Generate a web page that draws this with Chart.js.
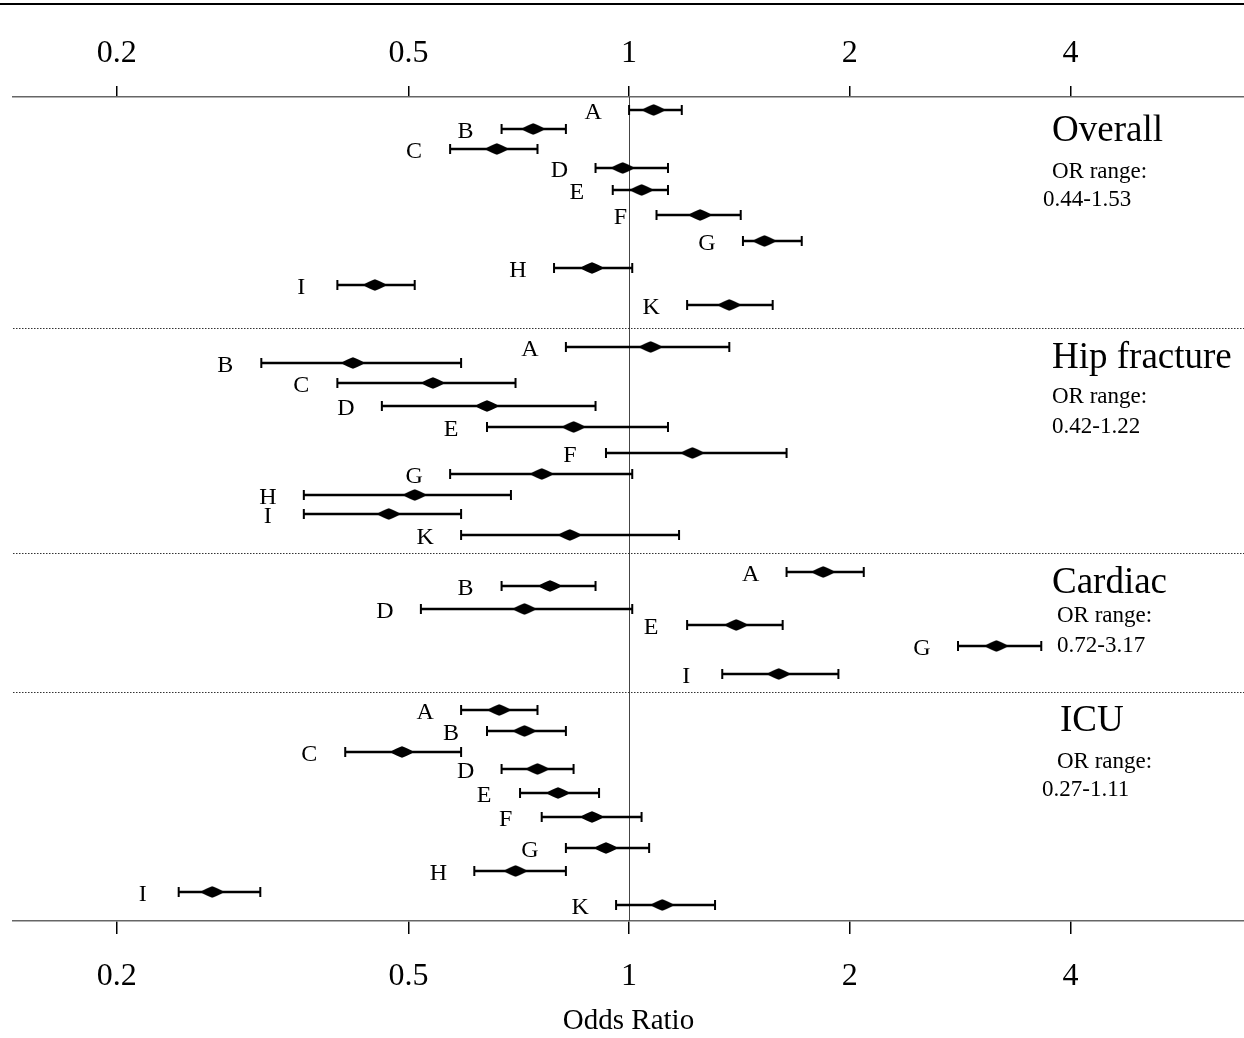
<!DOCTYPE html>
<html>
<head>
<meta charset="utf-8">
<script src="https://cdn.jsdelivr.net/npm/chart.js@4.4.1/dist/chart.umd.min.js"></script>
<style>
  html, body { margin: 0; padding: 0; background: #fff; }
  #wrap { width: 1244px; height: 1038px; }
</style>
</head>
<body>
<div id="wrap"><canvas id="c" width="1244" height="1038"></canvas></div>
<script>
// ---------------- DATA ----------------
const tickValues = [0.2, 0.5, 1, 2, 4];
const tickLabels = ['0.2', '0.5', '1', '2', '4'];

const overallLabels = ['A','B','C','D','E','F','G','H','I','K'];
const overallOR     = [1.08, 0.74, 0.66, 0.98, 1.04, 1.25, 1.53, 0.89, 0.45, 1.37];
const overallLow    = [1.00, 0.67, 0.57, 0.90, 0.95, 1.09, 1.43, 0.79, 0.40, 1.20];
const overallHigh   = [1.18, 0.82, 0.75, 1.13, 1.13, 1.42, 1.72, 1.01, 0.51, 1.57];
const overallRow    = [0.65, 1.6, 2.6, 3.55, 4.65, 5.9, 7.2, 8.55, 9.4, 10.4];

const hipLabels = ['A','B','C','D','E','F','G','H','I','K'];
const hipOR     = [1.07, 0.42, 0.54, 0.64, 0.84, 1.22, 0.76, 0.51, 0.47, 0.83];
const hipLow    = [0.82, 0.315, 0.40, 0.46, 0.64, 0.93, 0.57, 0.36, 0.36, 0.59];
const hipHigh   = [1.37, 0.59, 0.70, 0.90, 1.13, 1.64, 1.01, 0.69, 0.59, 1.17];
const hipRow    = [12.5, 13.3, 14.3, 15.45, 16.5, 17.8, 18.85, 19.9, 20.85, 21.9];

const cardiacLabels = ['A','B','D','E','G','I'];
const cardiacOR     = [1.84, 0.78, 0.72, 1.40, 3.17, 1.60];
const cardiacLow    = [1.64, 0.67, 0.52, 1.20, 2.81, 1.34];
const cardiacHigh   = [2.09, 0.90, 1.01, 1.62, 3.65, 1.93];
const cardiacRow    = [23.75, 24.45, 25.6, 26.4, 27.45, 28.85];

const icuLabels = ['A','B','C','D','E','F','G','H','I','K'];
const icuOR     = [0.665, 0.72, 0.49, 0.75, 0.80, 0.89, 0.93, 0.70, 0.27, 1.11];
const icuLow    = [0.59, 0.64, 0.41, 0.67, 0.71, 0.76, 0.82, 0.615, 0.243, 0.96];
const icuHigh   = [0.75, 0.82, 0.59, 0.84, 0.91, 1.04, 1.065, 0.82, 0.314, 1.31];
const icuRow    = [30.65, 31.7, 32.75, 33.6, 34.8, 36.0, 37.55, 38.7, 39.75, 40.4];

const panelNames  = ['Overall', 'Hip fracture', 'Cardiac', 'ICU'];
const panelRanges = ['0.44-1.53', '0.42-1.22', '0.72-3.17', '0.27-1.11'];
const separatorRows = [11.55, 22.8, 29.75];

// ---------------- BUILD ----------------
const panels = [
  { labels: overallLabels, or: overallOR, low: overallLow, high: overallHigh, row: overallRow },
  { labels: hipLabels, or: hipOR, low: hipLow, high: hipHigh, row: hipRow },
  { labels: cardiacLabels, or: cardiacOR, low: cardiacLow, high: cardiacHigh, row: cardiacRow },
  { labels: icuLabels, or: icuOR, low: icuLow, high: icuHigh, row: icuRow }
];

// panel annotation layout (row units, px offsets from right)
const panelText = [
  { titleY: 1.7,  titleDx: 0, orY: 3.75,  orDx: 0, rgY: 5.15,  rgDx: -9 },
  { titleY: 13.05, titleDx: 0, orY: 15.0, orDx: 0, rgY: 16.5,  rgDx: 0 },
  { titleY: 24.3, titleDx: 0, orY: 25.95, orDx: 5, rgY: 27.45, rgDx: 5 },
  { titleY: 31.2, titleDx: 8, orY: 33.25, orDx: 5, rgY: 34.65, rgDx: -10 }
];

const SERIF = '"Liberation Serif", "Times New Roman", serif';

// diamond point image
function makeDiamond() {
  const w = 24, h = 12;
  const c = document.createElement('canvas');
  c.width = w; c.height = h;
  const g = c.getContext('2d');
  g.fillStyle = '#000';
  g.beginPath();
  g.moveTo(0, h / 2);
  g.quadraticCurveTo(w * 0.3, h * 0.15, w / 2, 0.3);
  g.quadraticCurveTo(w * 0.7, h * 0.15, w, h / 2);
  g.quadraticCurveTo(w * 0.7, h * 0.85, w / 2, h - 0.3);
  g.quadraticCurveTo(w * 0.3, h * 0.85, 0, h / 2);
  g.closePath();
  g.fill();
  return c;
}
const diamond = makeDiamond();

const datasets = panels.map((p, i) => ({
  label: panelNames[i],
  data: p.or.map((v, k) => ({ x: v, y: p.row[k] })),
  pointStyle: diamond,
  pointRadius: 10,
  pointHoverRadius: 10,
  showLine: false,
  clip: false
}));

const forestPlugin = {
  id: 'forest',
  beforeDraw(chart) {
    const ctx = chart.ctx;
    ctx.save();
    ctx.fillStyle = '#fff';
    ctx.fillRect(0, 0, chart.width, chart.height);
    ctx.restore();
  },
  beforeDatasetsDraw(chart) {
    const ctx = chart.ctx;
    const xs = chart.scales.x, ys = chart.scales.y;
    const area = chart.chartArea;
    ctx.save();
    // top frame line
    ctx.strokeStyle = '#000';
    ctx.lineWidth = 2;
    ctx.beginPath();
    ctx.moveTo(0, 4); ctx.lineTo(chart.width, 4);
    ctx.stroke();

    // reference line at OR = 1
    const x1 = Math.round(xs.getPixelForValue(1)) + 0.5;
    ctx.strokeStyle = '#444';
    ctx.lineWidth = 1;
    ctx.beginPath();
    ctx.moveTo(x1, area.top); ctx.lineTo(x1, area.bottom);
    ctx.stroke();

    // dotted separators
    ctx.strokeStyle = '#333';
    ctx.lineWidth = 1;
    ctx.setLineDash([1.5, 1.5]);
    separatorRows.forEach(r => {
      const y = Math.round(ys.getPixelForValue(r)) + 0.5;
      ctx.beginPath();
      ctx.moveTo(area.left, y); ctx.lineTo(area.right, y);
      ctx.stroke();
    });
    ctx.setLineDash([]);

    // error bars + labels
    ctx.strokeStyle = '#000';
    ctx.fillStyle = '#000';
    ctx.font = '24px ' + SERIF;
    ctx.textAlign = 'center';
    ctx.textBaseline = 'middle';
    panels.forEach(p => {
      p.or.forEach((v, k) => {
        const y = ys.getPixelForValue(p.row[k]);
        const xl = xs.getPixelForValue(p.low[k]);
        const xh = xs.getPixelForValue(p.high[k]);
        ctx.lineWidth = 2.5;
        ctx.beginPath();
        ctx.moveTo(xl, y); ctx.lineTo(xh, y);
        ctx.stroke();
        ctx.lineWidth = 2;
        ctx.beginPath();
        ctx.moveTo(xl, y - 5); ctx.lineTo(xl, y + 5);
        ctx.moveTo(xh, y - 5); ctx.lineTo(xh, y + 5);
        ctx.stroke();
        ctx.fillText(p.labels[k], xl - 36, y + 3);
      });
    });

    // panel texts
    ctx.textAlign = 'left';
    const baseX = area.right - 192;
    panelText.forEach((t, i) => {
      ctx.font = '37px ' + SERIF;
      ctx.fillText(panelNames[i], baseX + t.titleDx, ys.getPixelForValue(t.titleY));
      ctx.font = '23px ' + SERIF;
      ctx.fillText('OR range:', baseX + t.orDx, ys.getPixelForValue(t.orY));
      ctx.fillText(panelRanges[i], baseX + t.rgDx, ys.getPixelForValue(t.rgY));
    });
    ctx.restore();
  }
};

function setTicks(scale) {
  scale.ticks = tickValues.map(v => ({ value: v }));
}
function tickCb(value) {
  const i = tickValues.indexOf(value);
  return i >= 0 ? tickLabels[i] : '';
}

const xMin = 0.1444, xMax = 6.9;

new Chart(document.getElementById('c'), {
  type: 'scatter',
  data: { datasets },
  plugins: [forestPlugin],
  options: {
    responsive: false,
    animation: false,
    devicePixelRatio: 1,
    layout: { autoPadding: false, padding: { left: 13, right: 0, top: 0, bottom: 0 } },
    plugins: { legend: { display: false }, tooltip: { enabled: false } },
    scales: {
      x: {
        type: 'logarithmic',
        position: 'bottom',
        min: xMin, max: xMax,
        afterBuildTicks: setTicks,
        afterFit(s) { s.height = 117; },
        ticks: {
          callback: tickCb,
          color: '#000',
          font: { family: SERIF, size: 32 },
          padding: 23,
          maxRotation: 0,
          autoSkip: false
        },
        grid: { drawOnChartArea: false, drawTicks: true, tickLength: 13, color: '#000', lineWidth: 1.5 },
        border: { display: true, color: '#666', width: 1.5 },
        title: {
          display: true,
          text: 'Odds Ratio',
          color: '#000',
          font: { family: SERIF, size: 29 },
          padding: { top: 0, bottom: -1 }
        }
      },
      x2: {
        type: 'logarithmic',
        position: 'top',
        min: xMin, max: xMax,
        afterBuildTicks: setTicks,
        afterFit(s) { s.height = 97; },
        ticks: {
          callback: tickCb,
          color: '#000',
          font: { family: SERIF, size: 32 },
          padding: 13,
          maxRotation: 0,
          autoSkip: false
        },
        grid: { drawOnChartArea: false, drawTicks: true, tickLength: 11, color: '#000', lineWidth: 1.5 },
        border: { display: true, color: '#666', width: 1.5 }
      },
      y: {
        type: 'linear',
        display: false,
        reverse: true,
        min: 0,
        max: 41.2
      }
    }
  }
});
</script>
</body>
</html>
